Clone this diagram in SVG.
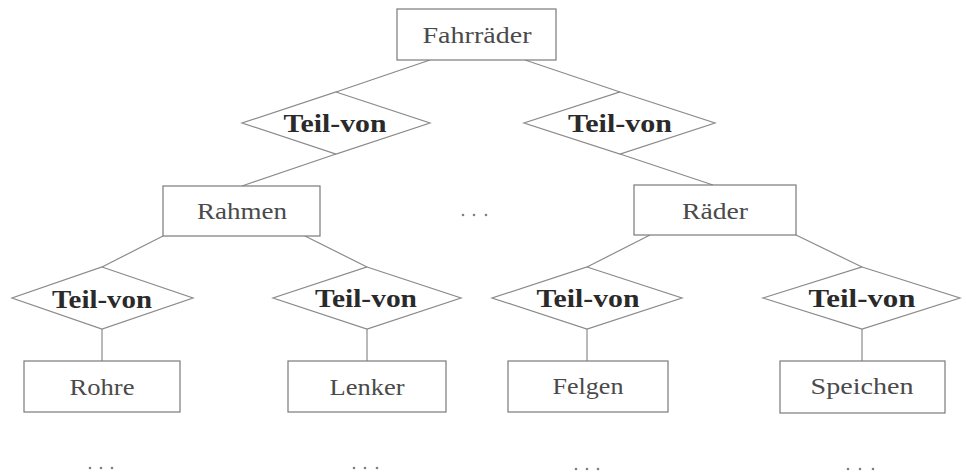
<svg xmlns="http://www.w3.org/2000/svg" width="966" height="475" viewBox="0 0 966 475">
  <style>
    .box { fill: #ffffff; stroke: #7a7a7a; stroke-width: 1.2; }
    .rel { fill: #ffffff; stroke: #8a8a8a; stroke-width: 1.2; }
    .edge { stroke: #8a8a8a; stroke-width: 1.2; fill: none; }
    .ent { font-family: "Liberation Serif", "DejaVu Serif", serif; font-size: 23px; fill: #4a4a4a; text-anchor: middle; }
    .lbl { font-family: "Liberation Serif", "DejaVu Serif", serif; font-size: 26px; font-weight: bold; fill: #2a2a2a; text-anchor: middle; }
    .dot { fill: #808080; }
  </style>
  <rect width="966" height="475" fill="#ffffff"/>

  <!-- connectors -->
  <g id="connectors">
    <line class="edge" x1="430" y1="60" x2="336" y2="92"/>
    <line class="edge" x1="525" y1="60" x2="620" y2="92"/>
    <line class="edge" x1="336" y1="154" x2="242" y2="186"/>
    <line class="edge" x1="620" y1="154" x2="713" y2="185"/>
    <line class="edge" x1="163" y1="236" x2="102" y2="267"/>
    <line class="edge" x1="305" y1="236" x2="367" y2="267"/>
    <line class="edge" x1="650" y1="235" x2="587" y2="267"/>
    <line class="edge" x1="796" y1="235" x2="862" y2="267"/>
    <line class="edge" x1="102" y1="329" x2="102" y2="361"/>
    <line class="edge" x1="367" y1="329" x2="367" y2="361"/>
    <line class="edge" x1="587" y1="329" x2="587" y2="361"/>
    <line class="edge" x1="862" y1="329" x2="862" y2="361"/>
  </g>

  <!-- entities -->
  <g id="fahrraeder">
    <rect class="box" x="397" y="9" width="159" height="51"/>
    <text class="ent" x="477" y="43" textLength="109" lengthAdjust="spacingAndGlyphs">Fahrräder</text>
  </g>
  <g id="rahmen">
    <rect class="box" x="163" y="186" width="157" height="50"/>
    <text class="ent" x="242" y="219" textLength="90" lengthAdjust="spacingAndGlyphs">Rahmen</text>
  </g>
  <g id="raeder">
    <rect class="box" x="634" y="185" width="162" height="50"/>
    <text class="ent" x="715" y="219" textLength="66" lengthAdjust="spacingAndGlyphs">Räder</text>
  </g>
  <g id="rohre">
    <rect class="box" x="24" y="361" width="156" height="51"/>
    <text class="ent" x="102" y="395" textLength="65" lengthAdjust="spacingAndGlyphs">Rohre</text>
  </g>
  <g id="lenker">
    <rect class="box" x="288" y="361" width="158" height="51"/>
    <text class="ent" x="367" y="395" textLength="75" lengthAdjust="spacingAndGlyphs">Lenker</text>
  </g>
  <g id="felgen">
    <rect class="box" x="508" y="361" width="160" height="51"/>
    <text class="ent" x="588" y="394" textLength="71" lengthAdjust="spacingAndGlyphs">Felgen</text>
  </g>
  <g id="speichen">
    <rect class="box" x="780" y="361" width="165" height="52"/>
    <text class="ent" x="862" y="394" textLength="103" lengthAdjust="spacingAndGlyphs">Speichen</text>
  </g>

  <!-- relationships -->
  <g id="teilvon-1">
    <polygon class="rel" points="336,92 430,123 336,154 242,123"/>
    <text class="lbl" x="335" y="132" textLength="103" lengthAdjust="spacingAndGlyphs">Teil-von</text>
  </g>
  <g id="teilvon-2">
    <polygon class="rel" points="620,92 715,123 620,154 524,123"/>
    <text class="lbl" x="620" y="132" textLength="104" lengthAdjust="spacingAndGlyphs">Teil-von</text>
  </g>
  <g id="teilvon-3">
    <polygon class="rel" points="102,267 193,298 102,329 12,298"/>
    <text class="lbl" x="102" y="308" textLength="100" lengthAdjust="spacingAndGlyphs">Teil-von</text>
  </g>
  <g id="teilvon-4">
    <polygon class="rel" points="367,267 461,298 367,329 273,298"/>
    <text class="lbl" x="366" y="307" textLength="102" lengthAdjust="spacingAndGlyphs">Teil-von</text>
  </g>
  <g id="teilvon-5">
    <polygon class="rel" points="587,267 682,298 587,329 492,298"/>
    <text class="lbl" x="588" y="307" textLength="103" lengthAdjust="spacingAndGlyphs">Teil-von</text>
  </g>
  <g id="teilvon-6">
    <polygon class="rel" points="862,267 960,298 862,329 763,298"/>
    <text class="lbl" x="862" y="307" textLength="107" lengthAdjust="spacingAndGlyphs">Teil-von</text>
  </g>

  <!-- ellipses -->
  <g id="dots-mid">
    <circle class="dot" cx="463" cy="215" r="1.3"/>
    <circle class="dot" cx="474" cy="215" r="1.3"/>
    <circle class="dot" cx="486" cy="215" r="1.3"/>
  </g>
  <g id="dots-rohre">
    <circle class="dot" cx="90" cy="468" r="1.3"/>
    <circle class="dot" cx="101" cy="468" r="1.3"/>
    <circle class="dot" cx="112" cy="468" r="1.3"/>
  </g>
  <g id="dots-lenker">
    <circle class="dot" cx="354" cy="468" r="1.3"/>
    <circle class="dot" cx="365" cy="468" r="1.3"/>
    <circle class="dot" cx="377" cy="468" r="1.3"/>
  </g>
  <g id="dots-felgen">
    <circle class="dot" cx="576" cy="469" r="1.3"/>
    <circle class="dot" cx="587" cy="469" r="1.3"/>
    <circle class="dot" cx="598" cy="469" r="1.3"/>
  </g>
  <g id="dots-speichen">
    <circle class="dot" cx="848" cy="469" r="1.3"/>
    <circle class="dot" cx="860" cy="469" r="1.3"/>
    <circle class="dot" cx="873" cy="469" r="1.3"/>
  </g>
</svg>
